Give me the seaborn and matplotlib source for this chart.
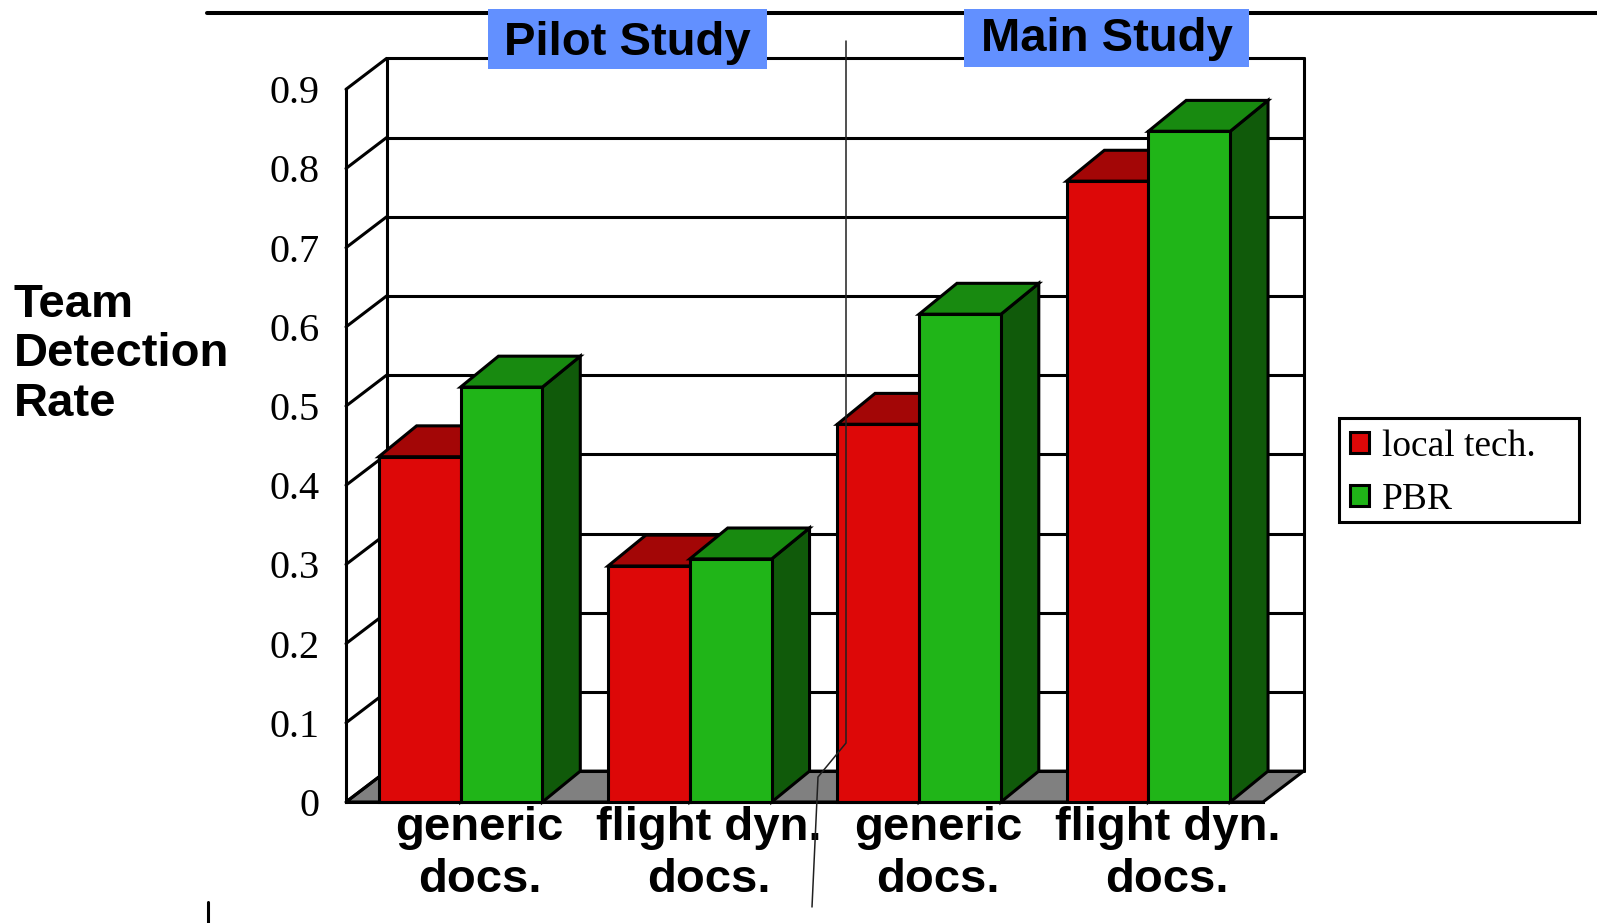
import matplotlib
matplotlib.use("Agg")
import matplotlib.pyplot as plt
from matplotlib.patches import Polygon, Rectangle, Patch
from matplotlib.lines import Line2D
import seaborn as sns
import pandas as pd

# ---- data -----------------------------------------------------------------
studies = ["Pilot Study", "Pilot Study", "Main Study", "Main Study"]
doc_types = ["generic\ndocs.", "flight dyn.\ndocs.", "generic\ndocs.", "flight dyn.\ndocs."]
methods = ["local tech.", "PBR"]
local_tech = [0.436, 0.298, 0.477, 0.784]
pbr = [0.524, 0.307, 0.616, 0.847]
y_ticks = [0, 0.1, 0.2, 0.3, 0.4, 0.5, 0.6, 0.7, 0.8, 0.9]
y_ticklabels = ["0", "0.1", "0.2", "0.3", "0.4", "0.5", "0.6", "0.7", "0.8", "0.9"]
y_title = ["Team", "Detection", "Rate"]

# ---- styling --------------------------------------------------------------
FRONT = {"local tech.": "#DD0808", "PBR": "#20B518"}
TOP = {"local tech.": "#A30606", "PBR": "#188A10"}
SIDE = {"local tech.": "#700404", "PBR": "#105A0A"}
FLOOR = "#808080"
BOX_BLUE = "#6290FF"
LW = 2.2

W, H = 1597, 923
sns.set_theme(style="white")
plt.rcParams["font.family"] = ["Liberation Sans", "DejaVu Sans"]
plt.rcParams.update({"text.color": "black", "axes.labelcolor": "black",
                     "xtick.color": "black", "ytick.color": "black"})

fig = plt.figure(figsize=(W / 100, H / 100), dpi=100)
fig.patch.set_facecolor("white")


def fx(px):
    return px / W


def fy(py):
    return 1 - py / H


# front plane of the 3-D box
ax = fig.add_axes([fx(346), fy(802), (1263 - 346) / W, (802 - 89.3) / H])
ax.set_facecolor("none")

# build table
keys = [f"{s} | {d}" for s, d in zip(studies, doc_types)]
rows = []
for k, a, b in zip(keys, local_tech, pbr):
    rows.append({"group": k, "method": methods[0], "value": a})
    rows.append({"group": k, "method": methods[1], "value": b})
df = pd.DataFrame(rows)

sns.barplot(data=df, x="group", y="value", hue="method", order=keys,
            hue_order=methods, palette=[FRONT[m] for m in methods],
            width=0.714, saturation=1, edgecolor="black", linewidth=LW,
            legend=False, ax=ax)
bars = sorted([p for p in ax.patches if p.get_height() > 0], key=lambda p: p.get_x())

ax.set_xlim(-0.5, len(keys) - 0.5)
ax.set_ylim(0, 0.9)
ax.set_xlabel("")
ax.set_ylabel("")

# depth offsets (data units)
WDX, WDY = 0.177, 0.039   # walls / floor
BDX, BDY = 0.165, 0.039   # bars

x_left, x_right = -0.5, len(keys) - 0.5

# floor
ax.add_patch(Polygon([(x_left, 0), (x_right, 0), (x_right + WDX, WDY), (x_left + WDX, WDY)],
                     closed=True, facecolor=FLOOR, edgecolor="black", lw=LW,
                     zorder=1, clip_on=False, joinstyle="miter"))

# back wall grid and edges
for v in y_ticks:
    ax.add_line(Line2D([x_left + WDX, x_right + WDX], [v + WDY, v + WDY],
                       color="black", lw=LW, zorder=1.5, clip_on=False))
    ax.add_line(Line2D([x_left, x_left + WDX], [v, v + WDY],
                       color="black", lw=LW, zorder=1.5, clip_on=False))
for xe in (x_left + WDX, x_right + WDX):
    ax.add_line(Line2D([xe, xe], [WDY, y_ticks[-1] + WDY],
                       color="black", lw=LW, zorder=1.5, clip_on=False))

# extrude the bars into 3-D
for p in bars:
    x0, w, h = p.get_x(), p.get_width(), p.get_height()
    centre = x0 + w / 2
    m = methods[0] if centre < round(centre) else methods[1]
    z = 3 + methods.index(m)
    side = Polygon([(x0 + w, 0), (x0 + w + BDX, BDY), (x0 + w + BDX, h + BDY), (x0 + w, h)],
                   closed=True, facecolor=SIDE[m], edgecolor="black", lw=LW,
                   zorder=z, clip_on=False)
    top = Polygon([(x0, h), (x0 + w, h), (x0 + w + BDX, h + BDY), (x0 + BDX, h + BDY)],
                  closed=True, facecolor=TOP[m], edgecolor="black", lw=LW,
                  zorder=z, clip_on=False)
    ax.add_patch(side)
    ax.add_patch(top)
    p.set_zorder(z + 0.1)
    p.set_clip_on(False)

# axes / ticks
sns.despine(ax=ax, top=True, right=True)
for s in ("left", "bottom"):
    ax.spines[s].set_linewidth(LW)
    ax.spines[s].set_color("black")
    ax.spines[s].set_zorder(6)
ax.set_yticks(y_ticks)
ax.set_yticklabels(y_ticklabels, family="Liberation Serif", fontsize=29)
ax.set_xticks([x_left + k for k in range(len(keys) + 1)])
ax.set_xticklabels([])
ax.tick_params(axis="y", direction="out", length=7, width=LW, color="black", pad=12)
ax.tick_params(axis="x", direction="out", length=8.5, width=LW, color="black")
ax.grid(False)

# category labels (two lines, each placed on its own baseline)
for k, lab in enumerate(doc_types):
    for j, line in enumerate(lab.split("\n")):
        ax.annotate(line, xy=(k + BDX / 2, 0), xytext=(0, -(38 + 52 * j) * 0.72),
                    textcoords="offset points", ha="center", va="baseline",
                    fontsize=34, fontweight="bold", annotation_clip=False)

# y-axis title
for j, line in enumerate(y_title):
    fig.text(fx(14), fy(317 + 49.5 * j), line, ha="left", va="baseline",
             fontsize=34, fontweight="bold")

# top rule and study headers
fig.add_artist(Line2D([fx(207), fx(W)], [fy(12.7), fy(12.7)], color="black", lw=2.9))
for (x0, x1, y0, y1), name, ty in (((488, 767, 9, 69), "Pilot Study", 43),
                                   ((964, 1249, 9, 67), "Main Study", 39)):
    fig.add_artist(Rectangle((fx(x0), fy(y1)), fx(x1 - x0), (y1 - y0) / H,
                             facecolor=BOX_BLUE, edgecolor="none", zorder=5))
    fig.text(fx((x0 + x1) / 2), fy(ty), name, ha="center", va="center",
             fontsize=34, fontweight="bold", zorder=6)

# thin divider between the two studies
fig.add_artist(Line2D([fx(846), fx(846), fx(818), fx(812)],
                      [fy(41), fy(743), fy(777), fy(907)],
                      color="#202020", lw=1.1, zorder=10))
fig.add_artist(Line2D([fx(208), fx(208)], [fy(902), fy(923)], color="black", lw=2.2))

# legend
handles = [Patch(facecolor=FRONT[m], edgecolor="black", lw=LW, label=m) for m in methods]
leg = fig.legend(handles=handles, loc="upper left",
                 bbox_to_anchor=(fx(1339), fy(418)), frameon=False,
                 prop={"family": "Liberation Serif", "size": 27},
                 handlelength=0.5, handleheight=0.5, handletextpad=0.35,
                 labelspacing=0.5, borderpad=0.3, borderaxespad=0)
fig.add_artist(Rectangle((fx(1339), fy(522)), fx(1579 - 1339), (522 - 418) / H,
                         facecolor="white", edgecolor="black", lw=LW, zorder=1))

fig.savefig("out.png", dpi=100, facecolor="white")
